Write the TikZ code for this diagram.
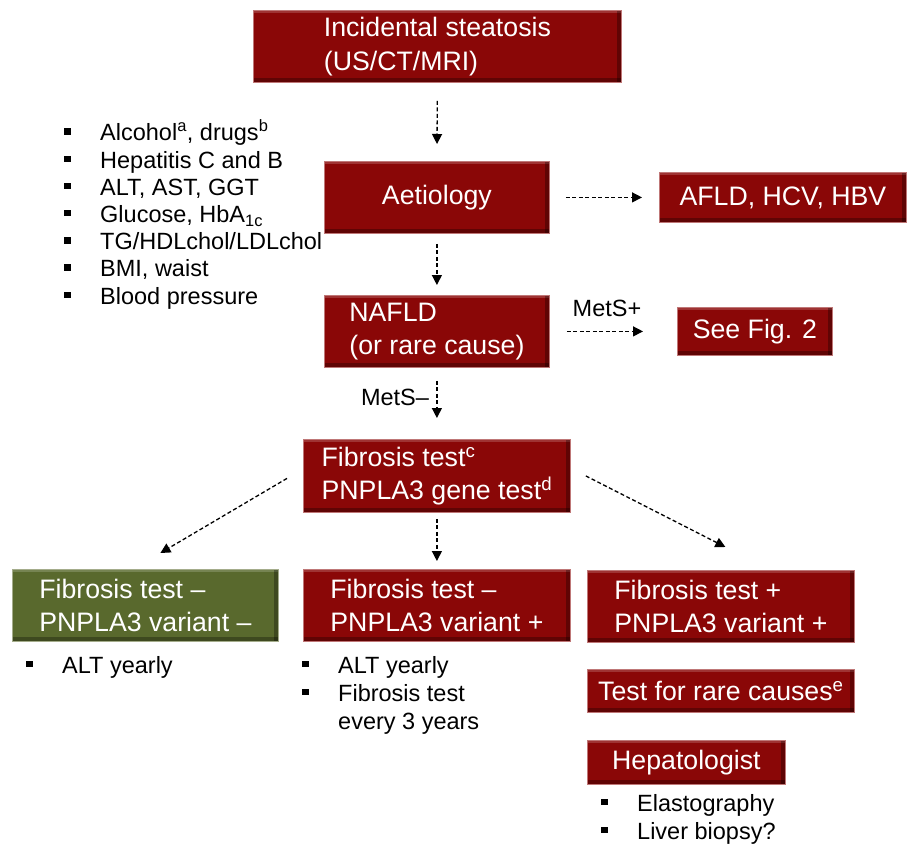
\documentclass[tikz,border=0pt]{standalone}
\usepackage{fontspec}
\setmainfont{Liberation Sans}
\usetikzlibrary{arrows.meta,calc}
\definecolor{boxred}{HTML}{8A0707}
\definecolor{boxgreen}{HTML}{59692D}
\newcommand{\blt}[1]{\makebox[36pt][l]{\rule[6pt]{6.5pt}{6.5pt}}#1}
\newcommand{\nob}{\makebox[36pt][l]{}}

\tikzset{
  flowbox/.style={rectangle, anchor=north west, fill=boxred, draw=boxred!55!white,
    line width=0.8pt, text=white, align=left, inner sep=0pt,
    font=\fontsize{26.7}{33.5}\selectfont,
    path picture={
      \fill[white,opacity=0.18] (path picture bounding box.north west) rectangle ([yshift=-3pt]path picture bounding box.north east);
      \fill[black,opacity=0.3] ([yshift=4pt]path picture bounding box.south west) rectangle (path picture bounding box.south east);
      \fill[black,opacity=0.3] ([xshift=-4pt]path picture bounding box.north east) rectangle (path picture bounding box.south east);
    }},
  greenbox/.style={flowbox, fill=boxgreen, draw=boxgreen!55!white},
  dasharrow/.style={draw, line width=1.3pt, dash pattern=on 4pt off 2.5pt, -{Triangle[length=10pt,width=10pt]}},
  bullets/.style={anchor=base west, align=left, inner sep=0pt, font=\fontsize{23.5}{27.2}\selectfont},
  armlabel/.style={inner sep=0pt, font=\fontsize{23.5}{27.2}\selectfont},
}

\begin{document}
\begin{tikzpicture}[x=1pt,y=-1pt]
\useasboundingbox (0,0) rectangle (908,847);

% main column
\node[flowbox, minimum width=368pt, minimum height=72pt] (inc) at (253,10) {Incidental steatosis\\(US/CT/MRI)};
\node[flowbox, minimum width=225pt, minimum height=72pt] (aet) at (324,161) {Aetiology};
\node[flowbox, minimum width=225pt, minimum height=72pt] (nafld) at (324,295) {NAFLD\\(or rare cause)};
\node[flowbox, minimum width=267pt, minimum height=73pt] (fib) at (303,439) {Fibrosis test\textsuperscript{c}\\PNPLA3 gene test\textsuperscript{d}};

% side boxes
\node[flowbox, minimum width=247pt, minimum height=50pt] (afld) at (659,172) {AFLD, HCV, HBV};
\node[flowbox, minimum width=155pt, minimum height=48pt] (seefig) at (677,307) {See Fig. 2};

% outcomes
\node[greenbox, minimum width=266pt, minimum height=72pt] (neg) at (12,569) {Fibrosis test --\\PNPLA3 variant --};
\node[flowbox, minimum width=267pt, minimum height=72pt] (mid) at (303,569) {Fibrosis test --\\PNPLA3 variant +};
\node[flowbox, minimum width=267pt, minimum height=72pt] (pos) at (587,570) {Fibrosis test +\\PNPLA3 variant +};
\node[flowbox, minimum width=267pt, minimum height=43pt] (rare) at (587,669) {Test for rare causes\textsuperscript{e}};
\node[flowbox, minimum width=198pt, minimum height=44pt] (hep) at (587,740) {Hepatologist};

% bullet lists (placed at the baseline of their last line)
\node[bullets] (checks) at (64,304) {\blt{Alcohol\textsuperscript{a}, drugs\textsuperscript{b}}\\\blt{Hepatitis C and B}\\\blt{ALT, AST, GGT}\\\blt{Glucose, HbA\textsubscript{1c}}\\\blt{TG/HDLchol/LDLchol}\\\blt{BMI, waist}\\\blt{Blood pressure}};
\node[bullets] (negcare) at (26,673) {\blt{ALT yearly}};
\node[bullets, font=\fontsize{23.5}{28}\selectfont] (midcare) at (302,729) {\blt{ALT yearly}\\\blt{Fibrosis test}\\\nob every 3 years};
\node[bullets, font=\fontsize{23.5}{28}\selectfont] (hepcare) at (601,839) {\blt{Elastography}\\\blt{Liver biopsy?}};

% connectors
\draw[dasharrow, shorten <=18pt, shorten >=17pt] (inc.south) -- (aet.north);
\draw[dasharrow, shorten <=10pt, shorten >=10pt] (aet.south) -- (nafld.north);
\draw[dasharrow, shorten <=13pt, shorten >=21pt] (nafld.south) -- (fib.north);
\draw[dasharrow, shorten <=6pt, shorten >=8pt] (fib.south) -- (mid.north);
\draw[dasharrow, shorten <=16pt, shorten >=17pt] (aet.east) -- (afld.west);
\draw[dasharrow, shorten <=17pt, shorten >=34pt] (nafld.east) -- (seefig.west);
\draw[dasharrow] ($(fib.west)+(-16,2.5)$) -- ($(neg.north)+(15,-16)$);
\draw[dasharrow] ($(fib.east)+(15,0)$) -- ($(pos.north)+(4.5,-23)$);

% arrow labels
\node[armlabel] (metsplus) at (607,308) {MetS+};
\node[armlabel] (metsminus) at (395,397) {MetS--};
\end{tikzpicture}
\end{document}
